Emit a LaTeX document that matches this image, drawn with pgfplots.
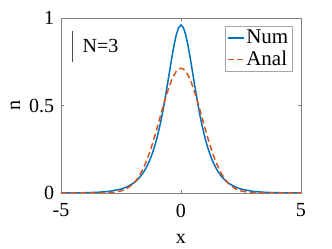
\documentclass[border=0pt]{standalone}
\usepackage{pgfplots}
\pgfplotsset{compat=1.18}
\usepackage{fontspec}
\setmainfont{Liberation Serif}
\definecolor{mblue}{rgb}{0,0.447,0.741}
\definecolor{morange}{rgb}{0.85,0.325,0.098}
\begin{document}
\fontsize{20}{24}\selectfont
\begin{tikzpicture}
\begin{axis}[name=ax,
  scale only axis, width=240pt, height=175pt,
  xmin=-5, xmax=5, ymin=0, ymax=1,
  xtick={-5,0,5}, ytick={0,0.5,1},
  /pgf/number format/assume math mode=true,
  yticklabels={0,0.5,1},
  xticklabels={-5,0,5},
  tick align=inside, major tick length=3pt,
  axis line style={black!50, line width=0.6pt},
  every tick/.style={black!50, line width=0.5pt},
  xticklabel style={yshift=-4pt},
  xlabel={x}, ylabel={n},
  xlabel style={at={(axis description cs:0.5,-0.265)}, anchor=center},
  ylabel style={at={(axis description cs:-0.19,0.5)}, anchor=center, rotate=0},
  legend style={at={(axis description cs:0.9625,0.954)}, anchor=north east,
    draw=black!35, fill=white, inner sep=1.5pt,
    font=\fontsize{21}{23}\selectfont},
  legend cell align=left,
  legend image post style={line width=1.5pt},
  legend image code/.code={\draw[#1, line width=1.5pt] (0pt,0pt) -- (16pt,0pt);},
]
\addplot[mblue, line width=1.5pt] coordinates {
(-5,0.0003) (-4.5,0.0008) (-4,0.0016) (-3.5,0.0038) (-3,0.0092) (-2.5,0.0224)
(-2.25,0.035) (-2,0.0545) (-1.9,0.0652) (-1.8,0.078) (-1.7,0.093) (-1.6,0.111)
(-1.5,0.132) (-1.4,0.158) (-1.3,0.188) (-1.2,0.224) (-1.1,0.266) (-1.0,0.315)
(-0.9,0.372) (-0.8,0.437) (-0.7,0.510) (-0.6,0.591) (-0.5,0.675) (-0.4,0.759)
(-0.3,0.838) (-0.2,0.902) (-0.1,0.945) (0,0.96)
(0.1,0.945) (0.2,0.902) (0.3,0.838) (0.4,0.759) (0.5,0.675) (0.6,0.591)
(0.7,0.510) (0.8,0.437) (0.9,0.372) (1.0,0.315) (1.1,0.266) (1.2,0.224)
(1.3,0.188) (1.4,0.158) (1.5,0.132) (1.6,0.111) (1.7,0.093) (1.8,0.078)
(1.9,0.0652) (2,0.0545) (2.25,0.035) (2.5,0.0224) (3,0.0092) (3.5,0.0038)
(4,0.0016) (4.5,0.0008) (5,0.0003)
};
\addlegendentry{Num}
\addplot[morange, line width=1.5pt, dash pattern=on 6pt off 3.5pt] coordinates {
(-5,0) (-4,0) (-3.5,0.0002) (-3,0.0019) (-2.75,0.005) (-2.5,0.0117) (-2.25,0.0256)
(-2,0.0515) (-1.9,0.0665) (-1.8,0.085) (-1.7,0.107) (-1.6,0.133) (-1.5,0.163)
(-1.4,0.197) (-1.3,0.235) (-1.2,0.277) (-1.1,0.322) (-1.0,0.370) (-0.9,0.419)
(-0.8,0.468) (-0.7,0.517) (-0.6,0.563) (-0.5,0.605) (-0.4,0.642) (-0.3,0.672)
(-0.2,0.695) (-0.1,0.708) (0,0.713)
(0.1,0.708) (0.2,0.695) (0.3,0.672) (0.4,0.642) (0.5,0.605) (0.6,0.563)
(0.7,0.517) (0.8,0.468) (0.9,0.419) (1.0,0.370) (1.1,0.322) (1.2,0.277)
(1.3,0.235) (1.4,0.197) (1.5,0.163) (1.6,0.133) (1.7,0.107) (1.8,0.085)
(1.9,0.0665) (2,0.0515) (2.25,0.0256) (2.5,0.0117) (2.75,0.005) (3,0.0019)
(3.5,0.0002) (4,0) (5,0)
};
\addlegendentry{Anal}
\draw[black!70, line width=0.6pt] (axis cs:-4.52,0.75) -- (axis cs:-4.52,0.925);
\node[anchor=center] at (axis cs:-3.35,0.84) {N=3};
\end{axis}
\pgfresetboundingbox
\path ([shift={(-61pt,-56pt)}]ax.south west) rectangle ([shift={(31pt,18pt)}]ax.north east);
\end{tikzpicture}
\end{document}
